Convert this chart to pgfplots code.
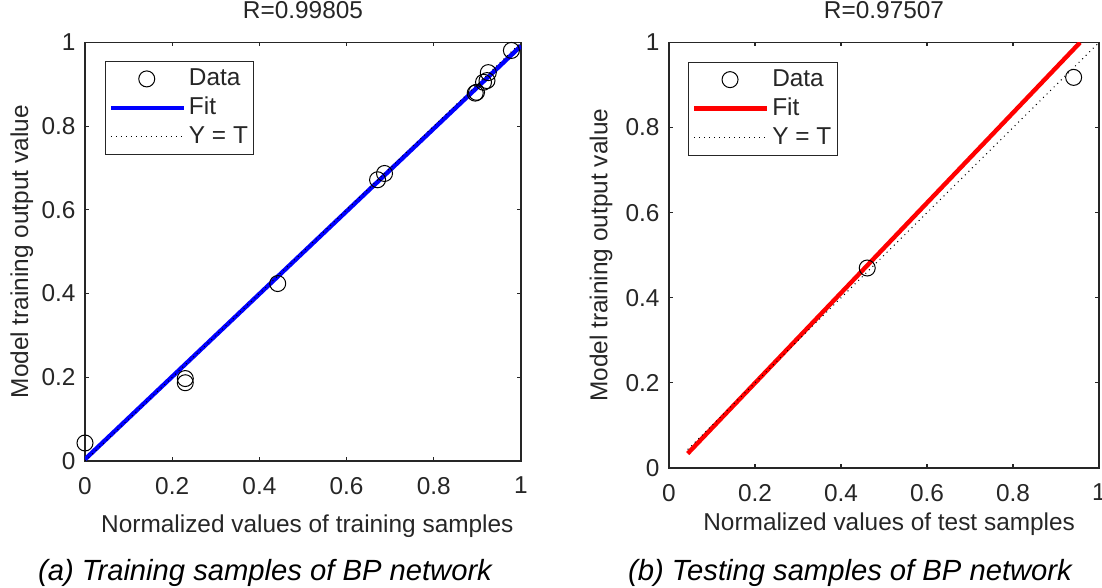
\documentclass[border=0pt]{standalone}
\usepackage{fontspec}
\setmainfont{Liberation Sans}
\usepackage{pgfplots}
\pgfplotsset{compat=1.18}
\definecolor{axgray}{rgb}{0.15,0.15,0.15}

\pgfplotsset{
  regplot/.style={
    scale only axis,
    xmin=0, xmax=1, ymin=0, ymax=1,
    xtick={0,0.2,...,1}, ytick={0,0.2,...,1},
    /pgf/number format/assume math mode=true,
    tick align=inside,
    major tick length=2pt,
    axis line style={axgray, line width=0.8pt},
    every tick/.style={axgray, line width=0.6pt},
    tick label style={text=axgray},
    label style={text=axgray},
    xticklabel style={yshift=-4.5pt},
    yticklabel style={xshift=-1.2pt},
    title style={at={(0.5,1)}, anchor=base, yshift=6pt, text=axgray},
    legend cell align=left,
    legend style={draw=axgray, line width=0.5pt, anchor=north west,
      inner xsep=1.5pt, inner ysep=1.5pt, row sep=0pt,
      nodes={text=axgray, inner sep=1.5pt, text height=9pt, text depth=2.5pt}},
    clip=true,
  },
  markleg/.style={legend image code/.code={\draw[##1] plot coordinates {(18pt,0pt)};}},
  lineleg/.style={legend image code/.code={\draw[##1] (0pt,0pt) -- (36.5pt,0pt);}},
}

\begin{document}
\begin{tikzpicture}[font=\fontsize{12.2}{14.6}\selectfont]

% (a) training
\begin{axis}[regplot,
  at={(42.5pt,63.5pt)}, anchor=south west,
  width=218pt, height=209.25pt,
  title={R=0.99805},
  xlabel={Normalized values of training samples},
  ylabel={Model training output value},
  xlabel style={at={(axis description cs:0.51,-0.155)}, anchor=center},
  ylabel style={at={(axis description cs:-0.145,0.5)}, anchor=center},
  legend style={at={(axis description cs:0.046,0.956)}},
]
\addplot[only marks, mark=o, mark size=4pt, black, line width=0.5pt, markleg]
  coordinates {
  (0.000,0.043) (0.230,0.197) (0.230,0.187) (0.442,0.424)
  (0.671,0.672) (0.687,0.687) (0.895,0.879) (0.898,0.881)
  (0.914,0.905) (0.922,0.909) (0.925,0.928) (0.978,0.981)
  };
\addlegendentry{Data}
\addplot[blue, line width=2.2pt, lineleg] coordinates {(0,0.004) (1,0.992)};
\addlegendentry{Fit}
\addplot[black, dotted, line width=0.5pt, lineleg] coordinates {(0,0) (1,1)};
\addlegendentry{Y = T}
\end{axis}

% (b) testing
\begin{axis}[regplot,
  at={(334.5pt,60pt)}, anchor=south west,
  width=215pt, height=212.75pt,
  title={R=0.97507},
  xlabel={Normalized values of test samples},
  ylabel={Model training output value},
  xlabel style={at={(axis description cs:0.512,-0.133)}, anchor=center},
  ylabel style={at={(axis description cs:-0.158,0.5)}, anchor=center},
  legend style={at={(axis description cs:0.045,0.955)}},
]
\addplot[only marks, mark=o, mark size=4pt, black, line width=0.5pt, markleg]
  coordinates {(0.461,0.470) (0.941,0.918)};
\addlegendentry{Data}
\addplot[red, line width=2.2pt, lineleg] coordinates {(0.0435,0.034) (0.956,1.0)};
\addlegendentry{Fit}
\addplot[black, dotted, line width=0.5pt, lineleg] coordinates {(0.0435,0.0435) (1,1)};
\addlegendentry{Y = T}
\end{axis}

\node[font=\fontsize{14.6}{17}\itshape, anchor=base] at (132.5pt,3.5pt) {(a) Training samples of BP network};
\node[font=\fontsize{14.6}{17}\itshape, anchor=base] at (425pt,3.5pt) {(b) Testing samples of BP network};

\pgfresetboundingbox
\path[use as bounding box] (0,0) rectangle (551pt,294pt);
\end{tikzpicture}
\end{document}
